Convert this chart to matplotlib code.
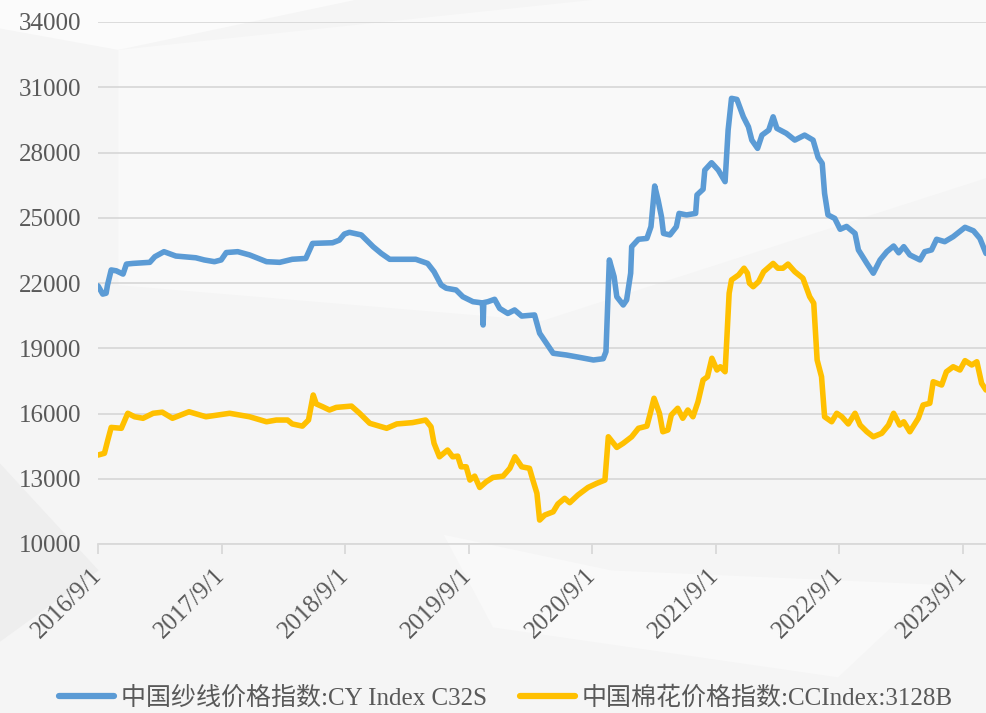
import matplotlib
matplotlib.use("Agg")
import matplotlib.pyplot as plt
import pandas as pd
from matplotlib.patches import Polygon

plt.rcParams['font.family'] = ['Liberation Serif', 'Noto Sans CJK SC', 'DejaVu Sans']

yarn_dates = [
    "2016-09-01", "2016-09-15", "2016-09-25", "2016-09-29", "2016-10-10", "2016-10-25",
    "2016-11-14", "2016-11-24", "2016-12-13", "2017-02-01", "2017-02-16", "2017-03-15",
    "2017-04-19", "2017-06-17", "2017-07-12", "2017-08-11", "2017-08-31", "2017-09-15",
    "2017-10-19", "2017-11-23", "2018-01-12", "2018-02-20", "2018-03-29", "2018-05-08",
    "2018-05-28", "2018-07-26", "2018-08-15", "2018-08-30", "2018-09-14", "2018-10-19",
    "2018-11-23", "2018-12-17", "2019-01-11", "2019-03-29", "2019-05-03", "2019-05-22",
    "2019-06-12", "2019-06-27", "2019-07-26", "2019-08-15", "2019-09-14", "2019-10-09",
    "2019-10-12", "2019-10-14", "2019-10-16", "2019-10-28", "2019-11-17", "2019-12-02",
    "2019-12-26", "2020-01-15", "2020-02-05", "2020-03-14", "2020-03-29", "2020-04-18",
    "2020-05-08", "2020-06-16", "2020-07-25", "2020-09-04", "2020-10-03", "2020-10-11",
    "2020-10-21", "2020-11-04", "2020-11-12", "2020-12-01", "2020-12-11", "2020-12-23",
    "2020-12-26", "2021-01-15", "2021-02-09", "2021-02-21", "2021-03-04", "2021-03-14",
    "2021-03-24", "2021-03-30", "2021-04-18", "2021-05-07", "2021-05-15", "2021-06-06",
    "2021-07-03", "2021-07-07", "2021-07-25", "2021-07-30", "2021-08-19", "2021-09-08",
    "2021-09-28", "2021-10-07", "2021-10-17", "2021-11-02", "2021-11-21", "2021-12-06",
    "2021-12-16", "2022-01-02", "2022-01-15", "2022-02-04", "2022-02-17", "2022-02-28",
    "2022-03-28", "2022-04-22", "2022-05-21", "2022-06-15", "2022-06-30", "2022-07-12",
    "2022-07-19", "2022-07-29", "2022-08-18", "2022-09-03", "2022-09-22", "2022-10-17",
    "2022-10-27", "2022-11-21", "2022-12-10", "2022-12-30", "2023-01-19", "2023-02-08",
    "2023-02-23", "2023-03-10", "2023-03-28", "2023-04-27", "2023-05-11", "2023-05-31",
    "2023-06-15", "2023-07-09", "2023-08-03", "2023-09-07", "2023-10-02", "2023-10-21",
    "2023-11-08",
]
yarn_values = [
    21870, 21490, 21530, 21900, 22600, 22560,
    22410, 22870, 22900, 22950, 23210, 23440,
    23240, 23160, 23060, 22980, 23060, 23400,
    23440, 23290, 22980, 22950, 23090, 23130,
    23820, 23850, 23970, 24250, 24330, 24210,
    23670, 23360, 23090, 23090, 22900, 22520,
    21910, 21760, 21680, 21370, 21140, 21090,
    21090, 20070, 21100, 21140, 21250, 20830,
    20600, 20760, 20480, 20530, 19690, 19230,
    18770, 18690, 18580, 18460, 18520, 18840,
    23060, 22290, 21370, 20990, 21220, 22450,
    23670, 24010, 24050, 24590, 26460, 25820,
    25050, 24280, 24210, 24590, 25200, 25130,
    25200, 26050, 26310, 27190, 27530, 27190,
    26660, 29030, 30490, 30440, 29640, 29180,
    28570, 28190, 28800, 29030, 29640, 29110,
    28880, 28570, 28800, 28570, 27770, 27500,
    26120, 25130, 24970, 24470, 24600, 24280,
    23520, 22900, 22450, 23060, 23440, 23700,
    23390, 23670, 23290, 23060, 23440, 23520,
    24010, 23900, 24130, 24560, 24400, 24050,
    23360,
]

cotton_dates = [
    "2016-09-01", "2016-09-20", "2016-09-30", "2016-10-10", "2016-11-09", "2016-11-28",
    "2016-12-18", "2017-01-12", "2017-02-11", "2017-03-10", "2017-04-09", "2017-05-28",
    "2017-07-17", "2017-09-25", "2017-11-23", "2018-01-12", "2018-02-10", "2018-03-15",
    "2018-03-29", "2018-04-28", "2018-05-16", "2018-05-30", "2018-06-08", "2018-06-27",
    "2018-07-17", "2018-08-06", "2018-09-20", "2018-10-14", "2018-11-13", "2019-01-02",
    "2019-02-01", "2019-03-19", "2019-04-27", "2019-05-13", "2019-05-22", "2019-06-07",
    "2019-07-01", "2019-07-16", "2019-07-31", "2019-08-10", "2019-08-25", "2019-09-05",
    "2019-09-19", "2019-10-04", "2019-10-23", "2019-11-12", "2019-12-12", "2020-01-01",
    "2020-01-16", "2020-02-05", "2020-02-28", "2020-03-09", "2020-03-21", "2020-03-29",
    "2020-04-13", "2020-05-08", "2020-05-22", "2020-06-11", "2020-06-26", "2020-07-20",
    "2020-08-19", "2020-09-14", "2020-10-08", "2020-10-18", "2020-11-12", "2020-12-01",
    "2020-12-26", "2021-01-15", "2021-02-09", "2021-02-19", "2021-03-02", "2021-03-18",
    "2021-03-28", "2021-04-12", "2021-04-22", "2021-05-11", "2021-05-26", "2021-06-10",
    "2021-06-25", "2021-07-10", "2021-07-25", "2021-08-07", "2021-08-20", "2021-09-04",
    "2021-09-14", "2021-09-28", "2021-10-03", "2021-10-10", "2021-10-17", "2021-11-07",
    "2021-11-23", "2021-12-03", "2021-12-09", "2021-12-20", "2022-01-05", "2022-01-20",
    "2022-02-17", "2022-03-03", "2022-03-18", "2022-04-02", "2022-04-22", "2022-05-16",
    "2022-06-05", "2022-06-17", "2022-06-27", "2022-07-10", "2022-07-19", "2022-08-09",
    "2022-08-24", "2022-09-08", "2022-09-27", "2022-10-17", "2022-11-01", "2022-11-21",
    "2022-12-10", "2023-01-04", "2023-01-24", "2023-02-08", "2023-02-26", "2023-03-10",
    "2023-03-28", "2023-04-22", "2023-05-06", "2023-05-26", "2023-06-05", "2023-06-30",
    "2023-07-14", "2023-08-03", "2023-08-23", "2023-09-07", "2023-09-27", "2023-10-12",
    "2023-10-26", "2023-11-08",
]
cotton_values = [
    14090, 14170, 14780, 15360, 15320, 16010,
    15850, 15780, 16010, 16060, 15780, 16080,
    15850, 16010, 15850, 15620, 15700, 15700,
    15520, 15420, 15700, 16850, 16440, 16310,
    16160, 16280, 16340, 16010, 15550, 15320,
    15520, 15580, 15700, 15390, 14630, 14010,
    14320, 14010, 14040, 13550, 13550, 12940,
    13120, 12600, 12860, 13060, 13120, 13480,
    14010, 13550, 13480, 12940, 12330, 11100,
    11330, 11480, 11840, 12100, 11900, 12250,
    12600, 12790, 12940, 14930, 14440, 14630,
    14930, 15320, 15420, 16010, 16700, 16010,
    15160, 15240, 15930, 16240, 15780, 16160,
    15850, 16540, 17540, 17690, 18540, 18000,
    18150, 17920, 19380, 21530, 22140, 22370,
    22680, 22450, 21990, 21830, 22060, 22520,
    22900, 22680, 22680, 22870, 22520, 22220,
    21370, 21070, 18460, 17690, 15850, 15620,
    16010, 15850, 15520, 16010, 15470, 15160,
    14930, 15090, 15470, 16010, 15470, 15620,
    15160, 15780, 16390, 16470, 17460, 17310,
    17920, 18150, 18000, 18430, 18230, 18380,
    17390, 17080,
]

series_labels = ["中国纱线价格指数:CY Index C32S", "中国棉花价格指数:CCIndex:3128B"]
y_ticks = [10000, 13000, 16000, 19000, 22000, 25000, 28000, 31000, 34000]
x_tick_dates = ["2016-09-01", "2017-09-01", "2018-09-01", "2019-09-01",
                "2020-09-01", "2021-09-01", "2022-09-01", "2023-09-01"]
x_tick_labels = ["2016/9/1", "2017/9/1", "2018/9/1", "2019/9/1",
                 "2020/9/1", "2021/9/1", "2022/9/1", "2023/9/1"]

BLUE = "#5B9BD5"
GOLD = "#FFC000"
TEXT = "#595959"
GRID = "#D9D9D9"
FS = 18

fig = plt.figure(figsize=(9.86, 7.13), dpi=100, facecolor="#f5f5f5")

# faint background shapes (watermark-like), kept behind the axes
bg_shapes = [
    ([(0.0, 1.0), (0.36, 1.0), (0.12, 0.93), (0.0, 0.96)], "#fbfbfb"),
    ([(0.12, 0.93), (0.6, 1.0), (1.0, 1.0), (1.0, 0.75), (0.55, 0.55), (0.12, 0.6)], "#f9f9f9"),
    ([(0.45, 0.25), (0.62, 0.2), (0.95, 0.18), (0.85, 0.05), (0.5, 0.12)], "#f9f9f9"),
    ([(0.0, 0.35), (0.1, 0.2), (0.0, 0.1)], "#eeeeee"),
]
for pts, col in bg_shapes:
    fig.patches.append(Polygon(pts, closed=True, transform=fig.transFigure,
                               facecolor=col, edgecolor="none", zorder=-10))

ax = fig.add_axes([98 / 986, 1 - 544 / 713, 1 - 98 / 986, (544 - 22) / 713])
ax.set_zorder(5)
ax.set_facecolor("none")

yd = pd.to_datetime(yarn_dates)
cd = pd.to_datetime(cotton_dates)

ax.plot(yd, yarn_values, color=BLUE, lw=4.0, solid_joinstyle="round",
        solid_capstyle="round", label=series_labels[0], zorder=3)
ax.plot(cd, cotton_values, color=GOLD, lw=4.0, solid_joinstyle="round",
        solid_capstyle="round", label=series_labels[1], zorder=3)

ax.set_ylim(10000, 34000)
ax.set_yticks(y_ticks)
ax.set_yticklabels([str(v) for v in y_ticks])
ax.set_xlim(pd.Timestamp("2016-09-01"), pd.Timestamp("2023-11-08"))
ax.set_xticks(pd.to_datetime(x_tick_dates))
ax.set_xticklabels(x_tick_labels, rotation=45, ha="right", va="center",
                   rotation_mode="anchor")

ax.grid(axis="y", color=GRID, lw=1.3, zorder=1)
ax.set_axisbelow(True)
for s in ["top", "right", "left"]:
    ax.spines[s].set_visible(False)
ax.spines["bottom"].set_color(GRID)
ax.spines["bottom"].set_linewidth(1.3)

ax.tick_params(axis="y", length=0, pad=12, labelsize=FS, labelcolor=TEXT)
ax.tick_params(axis="x", length=7, width=1.3, color=GRID, direction="out",
               pad=13, labelsize=FS, labelcolor=TEXT)

leg = fig.legend(loc="lower center", bbox_to_anchor=(0.513, -0.027), ncol=2,
                 frameon=False, fontsize=FS, handlelength=2.2, handletextpad=0.3,
                 columnspacing=1.3)
leg.set_zorder(6)
for t in leg.get_texts():
    t.set_color(TEXT)
for h in leg.get_lines():
    h.set_linewidth(4.5)
    h.set_solid_capstyle("round")

fig.savefig("out.png", dpi=100, facecolor=fig.get_facecolor())
